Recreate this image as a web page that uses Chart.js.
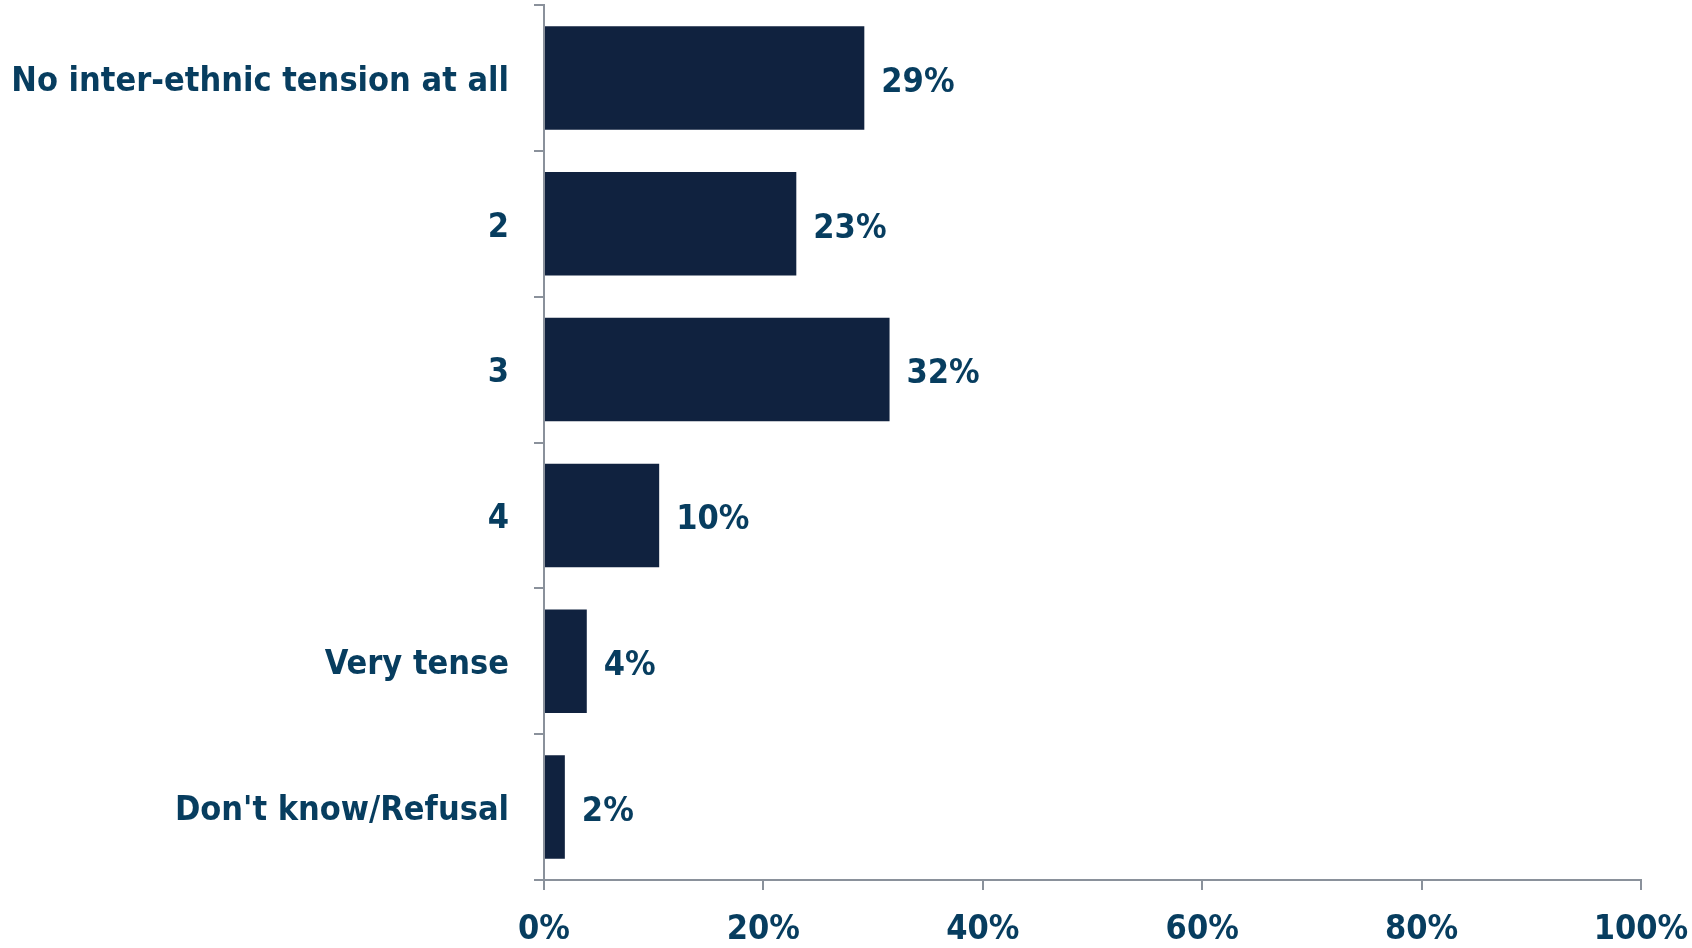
<!DOCTYPE html>
<html>
<head>
<meta charset="utf-8">
<script src="https://cdn.jsdelivr.net/npm/chart.js@4/dist/chart.umd.min.js"></script>
<style>
    html, body { margin: 0; padding: 0; background: #ffffff; }
    #wrap { width: 1692px; height: 948px; }
</style>
</head>
<body>
<div id="wrap"><canvas id="tensionChart" width="1692" height="948"></canvas></div>
<script>
// Chart data
const categories = ['No inter-ethnic tension at all', '2', '3', '4', 'Very tense', "Don't know/Refusal"];
const shares = [29.2, 23.0, 31.5, 10.5, 3.9, 1.9];
const shareLabels = ['29%', '23%', '32%', '10%', '4%', '2%'];
const xTicks = [0, 20, 40, 60, 80, 100];

const textColor = '#073d5f';
const barColor = '#10223f';
const axisColor = '#8a919b';
const fontFamily = '"DejaVu Sans Condensed", "DejaVu Sans", sans-serif';
const fontSize = 34;

// Draw value labels at the end of each bar
const barValueLabels = {
    id: 'barValueLabels',
    afterDatasetsDraw(chart) {
        const ctx = chart.ctx;
        const meta = chart.getDatasetMeta(0);
        ctx.save();
        ctx.font = 'bold ' + fontSize + 'px ' + fontFamily;
        ctx.fillStyle = textColor;
        ctx.textAlign = 'left';
        ctx.textBaseline = 'middle';
        meta.data.forEach((bar, i) => {
            ctx.fillText(shareLabels[i], bar.x + 17, bar.y + 5);
        });
        ctx.restore();
    }
};

const ctx = document.getElementById('tensionChart').getContext('2d');
new Chart(ctx, {
    type: 'bar',
    data: {
        labels: categories,
        datasets: [{
            data: shares,
            backgroundColor: barColor,
            borderWidth: 0,
            categoryPercentage: 1,
            barPercentage: 0.71
        }]
    },
    options: {
        indexAxis: 'y',
        responsive: false,
        animation: false,
        layout: {
            padding: { top: 5, right: 51, left: 0, bottom: 0 }
        },
        plugins: {
            legend: { display: false },
            tooltip: { enabled: false }
        },
        scales: {
            x: {
                min: 0,
                max: 100,
                afterBuildTicks(scale) {
                    scale.ticks = xTicks.map(v => ({ value: v }));
                },
                afterFit(scale) {
                    scale.height = 68;
                    scale.paddingLeft = 0;
                    scale.paddingRight = 0;
                },
                border: { color: axisColor, width: 2 },
                grid: {
                    drawOnChartArea: false,
                    drawTicks: true,
                    tickLength: 10,
                    color: axisColor,
                    lineWidth: 2
                },
                ticks: {
                    padding: 20,
                    color: textColor,
                    font: { family: fontFamily, size: fontSize, weight: 'bold' },
                    callback: v => v + '%'
                }
            },
            y: {
                afterFit(scale) {
                    scale.width = 544;
                    scale.paddingTop = 0;
                    scale.paddingBottom = 0;
                },
                border: { color: axisColor, width: 2 },
                grid: {
                    offset: true,
                    drawOnChartArea: false,
                    drawTicks: true,
                    tickLength: 10,
                    color: axisColor,
                    lineWidth: 2
                },
                ticks: {
                    padding: 25,
                    labelOffset: 4,
                    color: textColor,
                    font: { family: fontFamily, size: fontSize, weight: 'bold' }
                }
            }
        }
    },
    plugins: [barValueLabels]
});
</script>
</body>
</html>
